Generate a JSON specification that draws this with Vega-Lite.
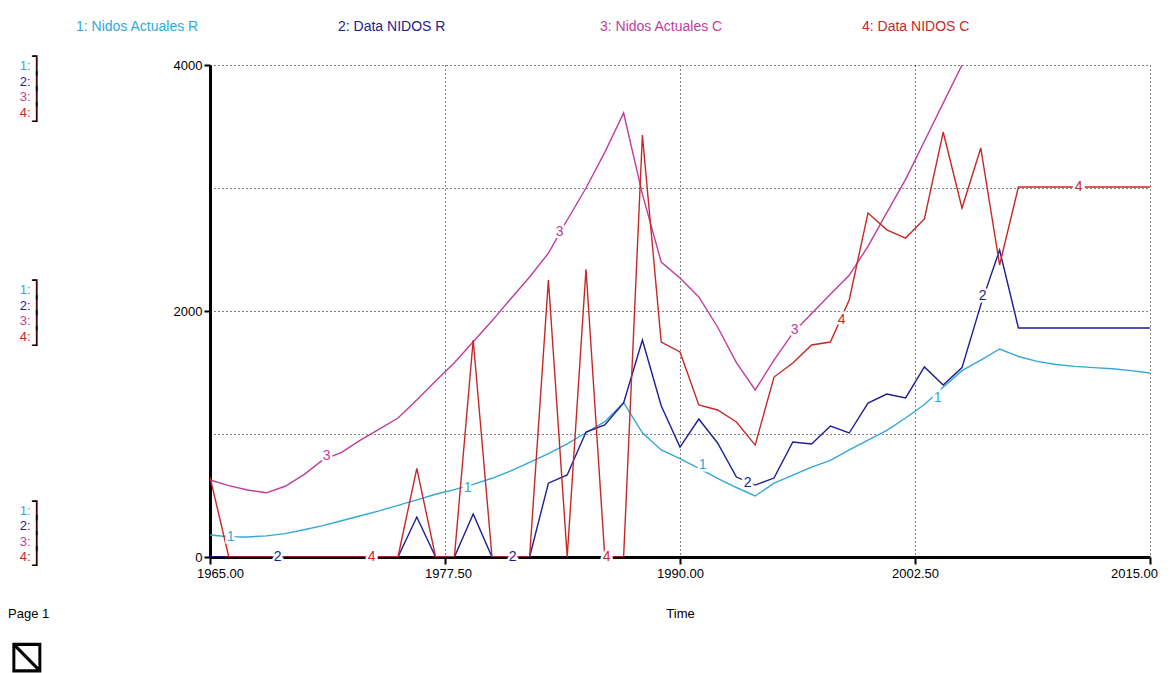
{
  "$schema": "https://vega.github.io/schema/vega-lite/v6.json",
  "width": 940,
  "height": 492,
  "autosize": {"type": "none"},
  "padding": {"left": 210, "top": 65, "right": 22, "bottom": 116},
  "background": "white",
  "config": {"view": {"stroke": null}, "font": "Liberation Sans"},
  "title": {"text": "Page 1", "subtitle": "⧅", "orient": "bottom", "anchor": "start", "frame": "group", "dx": -202, "offset": -12, "fontSize": 13, "fontWeight": "normal", "color": "#000", "font": "Liberation Sans", "subtitleFont": "DejaVu Sans", "subtitleFontSize": 58, "subtitleColor": "#000", "subtitlePadding": 5},
  "datasets": {
    "series": [
      {"t":1965,"s":"1: Nidos Actuales R","v":179},{"t":1966,"s":"1: Nidos Actuales R","v":165},{"t":1967,"s":"1: Nidos Actuales R","v":163},{"t":1968,"s":"1: Nidos Actuales R","v":172},{"t":1969,"s":"1: Nidos Actuales R","v":190},{"t":1970,"s":"1: Nidos Actuales R","v":222},{"t":1971,"s":"1: Nidos Actuales R","v":255},{"t":1972,"s":"1: Nidos Actuales R","v":295},{"t":1973,"s":"1: Nidos Actuales R","v":335},{"t":1974,"s":"1: Nidos Actuales R","v":375},{"t":1975,"s":"1: Nidos Actuales R","v":420},{"t":1976,"s":"1: Nidos Actuales R","v":465},{"t":1977,"s":"1: Nidos Actuales R","v":510},{"t":1978,"s":"1: Nidos Actuales R","v":548},{"t":1979,"s":"1: Nidos Actuales R","v":590},{"t":1980,"s":"1: Nidos Actuales R","v":640},{"t":1981,"s":"1: Nidos Actuales R","v":700},{"t":1982,"s":"1: Nidos Actuales R","v":770},{"t":1983,"s":"1: Nidos Actuales R","v":840},{"t":1984,"s":"1: Nidos Actuales R","v":920},{"t":1985,"s":"1: Nidos Actuales R","v":1010},{"t":1986,"s":"1: Nidos Actuales R","v":1100},{"t":1987,"s":"1: Nidos Actuales R","v":1255},{"t":1988,"s":"1: Nidos Actuales R","v":1010},{"t":1989,"s":"1: Nidos Actuales R","v":870},{"t":1990,"s":"1: Nidos Actuales R","v":800},{"t":1991,"s":"1: Nidos Actuales R","v":720},{"t":1992,"s":"1: Nidos Actuales R","v":640},{"t":1993,"s":"1: Nidos Actuales R","v":565},{"t":1994,"s":"1: Nidos Actuales R","v":496},{"t":1995,"s":"1: Nidos Actuales R","v":600},{"t":1996,"s":"1: Nidos Actuales R","v":665},{"t":1997,"s":"1: Nidos Actuales R","v":730},{"t":1998,"s":"1: Nidos Actuales R","v":785},{"t":1999,"s":"1: Nidos Actuales R","v":870},{"t":2000,"s":"1: Nidos Actuales R","v":950},{"t":2001,"s":"1: Nidos Actuales R","v":1030},{"t":2002,"s":"1: Nidos Actuales R","v":1130},{"t":2003,"s":"1: Nidos Actuales R","v":1240},{"t":2004,"s":"1: Nidos Actuales R","v":1380},{"t":2005,"s":"1: Nidos Actuales R","v":1515},{"t":2006,"s":"1: Nidos Actuales R","v":1600},{"t":2007,"s":"1: Nidos Actuales R","v":1691},{"t":2008,"s":"1: Nidos Actuales R","v":1630},{"t":2009,"s":"1: Nidos Actuales R","v":1590},{"t":2010,"s":"1: Nidos Actuales R","v":1565},{"t":2011,"s":"1: Nidos Actuales R","v":1550},{"t":2012,"s":"1: Nidos Actuales R","v":1540},{"t":2013,"s":"1: Nidos Actuales R","v":1530},{"t":2014,"s":"1: Nidos Actuales R","v":1515},{"t":2015,"s":"1: Nidos Actuales R","v":1496},
      {"t":1965,"s":"2: Data NIDOS R","v":0},{"t":1966,"s":"2: Data NIDOS R","v":0},{"t":1967,"s":"2: Data NIDOS R","v":0},{"t":1968,"s":"2: Data NIDOS R","v":0},{"t":1969,"s":"2: Data NIDOS R","v":0},{"t":1970,"s":"2: Data NIDOS R","v":0},{"t":1971,"s":"2: Data NIDOS R","v":0},{"t":1972,"s":"2: Data NIDOS R","v":0},{"t":1973,"s":"2: Data NIDOS R","v":0},{"t":1974,"s":"2: Data NIDOS R","v":0},{"t":1975,"s":"2: Data NIDOS R","v":0},{"t":1976,"s":"2: Data NIDOS R","v":325},{"t":1977,"s":"2: Data NIDOS R","v":0},{"t":1978,"s":"2: Data NIDOS R","v":0},{"t":1979,"s":"2: Data NIDOS R","v":350},{"t":1980,"s":"2: Data NIDOS R","v":0},{"t":1981,"s":"2: Data NIDOS R","v":0},{"t":1982,"s":"2: Data NIDOS R","v":0},{"t":1983,"s":"2: Data NIDOS R","v":600},{"t":1984,"s":"2: Data NIDOS R","v":667},{"t":1985,"s":"2: Data NIDOS R","v":1016},{"t":1986,"s":"2: Data NIDOS R","v":1073},{"t":1987,"s":"2: Data NIDOS R","v":1252},{"t":1988,"s":"2: Data NIDOS R","v":1764},{"t":1989,"s":"2: Data NIDOS R","v":1230},{"t":1990,"s":"2: Data NIDOS R","v":894},{"t":1991,"s":"2: Data NIDOS R","v":1122},{"t":1992,"s":"2: Data NIDOS R","v":927},{"t":1993,"s":"2: Data NIDOS R","v":650},{"t":1994,"s":"2: Data NIDOS R","v":585},{"t":1995,"s":"2: Data NIDOS R","v":642},{"t":1996,"s":"2: Data NIDOS R","v":935},{"t":1997,"s":"2: Data NIDOS R","v":919},{"t":1998,"s":"2: Data NIDOS R","v":1065},{"t":1999,"s":"2: Data NIDOS R","v":1008},{"t":2000,"s":"2: Data NIDOS R","v":1252},{"t":2001,"s":"2: Data NIDOS R","v":1325},{"t":2002,"s":"2: Data NIDOS R","v":1293},{"t":2003,"s":"2: Data NIDOS R","v":1545},{"t":2004,"s":"2: Data NIDOS R","v":1398},{"t":2005,"s":"2: Data NIDOS R","v":1540},{"t":2006,"s":"2: Data NIDOS R","v":2050},{"t":2007,"s":"2: Data NIDOS R","v":2496},{"t":2008,"s":"2: Data NIDOS R","v":1862},{"t":2009,"s":"2: Data NIDOS R","v":1862},{"t":2010,"s":"2: Data NIDOS R","v":1862},{"t":2011,"s":"2: Data NIDOS R","v":1862},{"t":2012,"s":"2: Data NIDOS R","v":1862},{"t":2013,"s":"2: Data NIDOS R","v":1862},{"t":2014,"s":"2: Data NIDOS R","v":1862},{"t":2015,"s":"2: Data NIDOS R","v":1862},
      {"t":1965,"s":"3: Nidos Actuales C","v":626},{"t":1966,"s":"3: Nidos Actuales C","v":580},{"t":1967,"s":"3: Nidos Actuales C","v":545},{"t":1968,"s":"3: Nidos Actuales C","v":522},{"t":1969,"s":"3: Nidos Actuales C","v":575},{"t":1970,"s":"3: Nidos Actuales C","v":670},{"t":1971,"s":"3: Nidos Actuales C","v":790},{"t":1972,"s":"3: Nidos Actuales C","v":850},{"t":1973,"s":"3: Nidos Actuales C","v":950},{"t":1974,"s":"3: Nidos Actuales C","v":1040},{"t":1975,"s":"3: Nidos Actuales C","v":1130},{"t":1976,"s":"3: Nidos Actuales C","v":1276},{"t":1977,"s":"3: Nidos Actuales C","v":1430},{"t":1978,"s":"3: Nidos Actuales C","v":1580},{"t":1979,"s":"3: Nidos Actuales C","v":1750},{"t":1980,"s":"3: Nidos Actuales C","v":1920},{"t":1981,"s":"3: Nidos Actuales C","v":2100},{"t":1982,"s":"3: Nidos Actuales C","v":2276},{"t":1983,"s":"3: Nidos Actuales C","v":2470},{"t":1984,"s":"3: Nidos Actuales C","v":2740},{"t":1985,"s":"3: Nidos Actuales C","v":3000},{"t":1986,"s":"3: Nidos Actuales C","v":3290},{"t":1987,"s":"3: Nidos Actuales C","v":3610},{"t":1988,"s":"3: Nidos Actuales C","v":2950},{"t":1989,"s":"3: Nidos Actuales C","v":2398},{"t":1990,"s":"3: Nidos Actuales C","v":2268},{"t":1991,"s":"3: Nidos Actuales C","v":2114},{"t":1992,"s":"3: Nidos Actuales C","v":1870},{"t":1993,"s":"3: Nidos Actuales C","v":1580},{"t":1994,"s":"3: Nidos Actuales C","v":1358},{"t":1995,"s":"3: Nidos Actuales C","v":1600},{"t":1996,"s":"3: Nidos Actuales C","v":1820},{"t":1997,"s":"3: Nidos Actuales C","v":1980},{"t":1998,"s":"3: Nidos Actuales C","v":2136},{"t":1999,"s":"3: Nidos Actuales C","v":2290},{"t":2000,"s":"3: Nidos Actuales C","v":2525},{"t":2001,"s":"3: Nidos Actuales C","v":2800},{"t":2002,"s":"3: Nidos Actuales C","v":3070},{"t":2003,"s":"3: Nidos Actuales C","v":3380},{"t":2004,"s":"3: Nidos Actuales C","v":3690},{"t":2005,"s":"3: Nidos Actuales C","v":4000},{"t":2006,"s":"3: Nidos Actuales C","v":4330},
      {"t":1965,"s":"4: Data NIDOS C","v":650},{"t":1966,"s":"4: Data NIDOS C","v":0},{"t":1967,"s":"4: Data NIDOS C","v":0},{"t":1968,"s":"4: Data NIDOS C","v":0},{"t":1969,"s":"4: Data NIDOS C","v":0},{"t":1970,"s":"4: Data NIDOS C","v":0},{"t":1971,"s":"4: Data NIDOS C","v":0},{"t":1972,"s":"4: Data NIDOS C","v":0},{"t":1973,"s":"4: Data NIDOS C","v":0},{"t":1974,"s":"4: Data NIDOS C","v":0},{"t":1975,"s":"4: Data NIDOS C","v":0},{"t":1976,"s":"4: Data NIDOS C","v":720},{"t":1977,"s":"4: Data NIDOS C","v":0},{"t":1978,"s":"4: Data NIDOS C","v":0},{"t":1979,"s":"4: Data NIDOS C","v":1764},{"t":1980,"s":"4: Data NIDOS C","v":0},{"t":1981,"s":"4: Data NIDOS C","v":0},{"t":1982,"s":"4: Data NIDOS C","v":0},{"t":1983,"s":"4: Data NIDOS C","v":2252},{"t":1984,"s":"4: Data NIDOS C","v":0},{"t":1985,"s":"4: Data NIDOS C","v":2340},{"t":1986,"s":"4: Data NIDOS C","v":0},{"t":1987,"s":"4: Data NIDOS C","v":0},{"t":1988,"s":"4: Data NIDOS C","v":3430},{"t":1989,"s":"4: Data NIDOS C","v":1748},{"t":1990,"s":"4: Data NIDOS C","v":1667},{"t":1991,"s":"4: Data NIDOS C","v":1236},{"t":1992,"s":"4: Data NIDOS C","v":1195},{"t":1993,"s":"4: Data NIDOS C","v":1098},{"t":1994,"s":"4: Data NIDOS C","v":910},{"t":1995,"s":"4: Data NIDOS C","v":1463},{"t":1996,"s":"4: Data NIDOS C","v":1577},{"t":1997,"s":"4: Data NIDOS C","v":1724},{"t":1998,"s":"4: Data NIDOS C","v":1748},{"t":1999,"s":"4: Data NIDOS C","v":2090},{"t":2000,"s":"4: Data NIDOS C","v":2797},{"t":2001,"s":"4: Data NIDOS C","v":2660},{"t":2002,"s":"4: Data NIDOS C","v":2593},{"t":2003,"s":"4: Data NIDOS C","v":2748},{"t":2004,"s":"4: Data NIDOS C","v":3455},{"t":2005,"s":"4: Data NIDOS C","v":2837},{"t":2006,"s":"4: Data NIDOS C","v":3325},{"t":2007,"s":"4: Data NIDOS C","v":2374},{"t":2008,"s":"4: Data NIDOS C","v":3008},{"t":2009,"s":"4: Data NIDOS C","v":3008},{"t":2010,"s":"4: Data NIDOS C","v":3008},{"t":2011,"s":"4: Data NIDOS C","v":3008},{"t":2012,"s":"4: Data NIDOS C","v":3008},{"t":2013,"s":"4: Data NIDOS C","v":3008},{"t":2014,"s":"4: Data NIDOS C","v":3008},{"t":2015,"s":"4: Data NIDOS C","v":3008}
    ],
    "labels": [
      {"t":1966.1,"v":163,"n":"1","s":"1: Nidos Actuales R"},{"t":1978.7,"v":560,"n":"1","s":"1: Nidos Actuales R"},{"t":1991.2,"v":748,"n":"1","s":"1: Nidos Actuales R"},{"t":2003.7,"v":1293,"n":"1","s":"1: Nidos Actuales R"},
      {"t":1968.6,"v":0,"n":"2","s":"2: Data NIDOS R"},{"t":1981.1,"v":0,"n":"2","s":"2: Data NIDOS R"},{"t":1993.6,"v":600,"n":"2","s":"2: Data NIDOS R"},{"t":2006.1,"v":2120,"n":"2","s":"2: Data NIDOS R"},
      {"t":1971.2,"v":820,"n":"3","s":"3: Nidos Actuales C"},{"t":1983.6,"v":2640,"n":"3","s":"3: Nidos Actuales C"},{"t":1996.1,"v":1846,"n":"3","s":"3: Nidos Actuales C"},
      {"t":1973.6,"v":0,"n":"4","s":"4: Data NIDOS C"},{"t":1986.1,"v":0,"n":"4","s":"4: Data NIDOS C"},{"t":1998.6,"v":1927,"n":"4","s":"4: Data NIDOS C"},{"t":2011.2,"v":3008,"n":"4","s":"4: Data NIDOS C"}
    ]
  },
  "resolve": {"axis": {"y": "independent"}},
  "layer": [
    {
      "data": {"name": "series"},
      "transform": [{"filter": "datum.s == '1: Nidos Actuales R'"}],
      "mark": {"type": "line", "strokeWidth": 1.4, "clip": true},
      "encoding": {
        "x": {"field": "t", "type": "quantitative", "scale": {"domain": [1965, 2015], "nice": false, "zero": false},
          "axis": {"values": [1965, 1977.5, 1990, 2002.5, 2015], "format": ".2f", "title": "Time", "titleFontSize": 13, "titleFontWeight": "normal", "titleColor": "#000", "titlePadding": 27, "grid": true, "gridColor": "#000", "gridDash": [1, 3], "gridWidth": 1, "gridOpacity": 1, "domainColor": "#000", "domainWidth": 3, "tickColor": "#000", "tickSize": 7, "tickWidth": 2, "labelFontSize": 13, "labelColor": "#000", "labelPadding": 3, "labelFlush": false, "labelOverlap": false,
            "labelOffset": {"condition": [{"test": "datum.value == 1965", "value": 10}, {"test": "datum.value == 2015", "value": -16}, {"test": "datum.value == 1977.5", "value": 3}], "value": 0}}},
        "y": {"field": "v", "type": "quantitative", "scale": {"domain": [0, 4000], "nice": false, "zero": false},
          "axis": {"orient": "left", "offset": 180, "values": [3992, 2171, 382], "labelExpr": "'1:'", "labelColor": "#33A8D8", "domain": false, "ticks": false, "tickSize": 0, "grid": false, "labelPadding": 0, "labelFontSize": 13, "labelOverlap": false, "labelBound": false, "labelFlush": false, "labelAlign": "right", "labelBaseline": "middle", "title": null}},
        "color": {"field": "s", "type": "nominal",
          "scale": {"domain": ["1: Nidos Actuales R", "2: Data NIDOS R", "3: Nidos Actuales C", "4: Data NIDOS C"], "range": ["#33A8D8", "#1C1C96", "#C23C9E", "#C62828"]},
          "legend": {"orient": "none", "legendX": -148, "legendY": -45, "direction": "horizontal", "title": null, "symbolSize": 0, "symbolOpacity": 0, "symbolStrokeWidth": 0, "labelFontSize": 14, "labelOffset": 0, "columnPadding": 125, "gridAlign": "all", "padding": 0, "labelFont": "Liberation Sans", "labelLimit": 300,
            "encode": {"labels": {"update": {"fill": {"scale": "color", "field": "value"}}}}}}
      }
    },
    {
      "data": {"name": "series"},
      "transform": [{"filter": "datum.s == '2: Data NIDOS R'"}],
      "mark": {"type": "line", "strokeWidth": 1.4, "clip": true},
      "encoding": {
        "x": {"field": "t", "type": "quantitative"},
        "y": {"field": "v", "type": "quantitative",
          "axis": {"orient": "left", "offset": 180, "values": [3866, 2045, 256], "labelExpr": "'2:'", "labelColor": "#1C1C96", "domain": false, "ticks": false, "tickSize": 0, "grid": false, "labelPadding": 0, "labelFontSize": 13, "labelOverlap": false, "labelBound": false, "labelFlush": false, "labelAlign": "right", "labelBaseline": "middle", "title": null}},
        "color": {"field": "s", "type": "nominal"}
      }
    },
    {
      "data": {"name": "series"},
      "transform": [{"filter": "datum.s == '3: Nidos Actuales C'"}],
      "mark": {"type": "line", "strokeWidth": 1.4, "clip": true},
      "encoding": {
        "x": {"field": "t", "type": "quantitative"},
        "y": {"field": "v", "type": "quantitative",
          "axis": {"orient": "left", "offset": 180, "values": [3740, 1919, 130], "labelExpr": "'3:'", "labelColor": "#C23C9E", "domain": false, "ticks": false, "tickSize": 0, "grid": false, "labelPadding": 0, "labelFontSize": 13, "labelOverlap": false, "labelBound": false, "labelFlush": false, "labelAlign": "right", "labelBaseline": "middle", "title": null}},
        "color": {"field": "s", "type": "nominal"}
      }
    },
    {
      "data": {"name": "series"},
      "transform": [{"filter": "datum.s == '4: Data NIDOS C'"}],
      "mark": {"type": "line", "strokeWidth": 1.4, "clip": true},
      "encoding": {
        "x": {"field": "t", "type": "quantitative"},
        "y": {"field": "v", "type": "quantitative",
          "axis": {"orient": "left", "offset": 180, "values": [3614, 1793, 4], "labelExpr": "'4:'", "labelColor": "#C62828", "domain": false, "ticks": false, "tickSize": 0, "grid": false, "labelPadding": 0, "labelFontSize": 13, "labelOverlap": false, "labelBound": false, "labelFlush": false, "labelAlign": "right", "labelBaseline": "middle", "title": null}},
        "color": {"field": "s", "type": "nominal"}
      }
    },
    {
      "data": {"name": "labels"},
      "mark": {"type": "text", "fill": "white", "stroke": "white", "strokeWidth": 5, "fontSize": 14, "align": "center", "baseline": "middle"},
      "encoding": {
        "x": {"field": "t", "type": "quantitative"},
        "y": {"field": "v", "type": "quantitative",
          "axis": {"orient": "left", "offset": 180, "values": [3992, 3866, 3740, 3614, 2171, 2045, 1919, 1793, 382, 256, 130, 4], "labelExpr": "indexof([3992, 2171, 382], datum.value) >= 0 ? '⎤' : (indexof([3614, 1793, 4], datum.value) >= 0 ? '⎦' : '⎥')", "labelColor": "#000", "labelFont": "DejaVu Sans", "labelFontSize": 17, "domain": false, "ticks": false, "tickSize": 0, "grid": false, "labelPadding": 0, "labelOverlap": false, "labelBound": false, "labelFlush": false, "labelAlign": "left", "labelBaseline": "middle", "title": null}},
        "text": {"field": "n"}
      }
    },
    {
      "data": {"name": "labels"},
      "mark": {"type": "text", "fontSize": 14, "align": "center", "baseline": "middle"},
      "encoding": {
        "x": {"field": "t", "type": "quantitative"},
        "y": {"field": "v", "type": "quantitative",
          "axis": {"orient": "left", "values": [0, 1000, 2000, 3000, 4000], "labelExpr": "datum.value % 2000 == 0 ? datum.value : ''", "grid": true, "gridColor": "#000", "gridDash": [1, 3], "gridWidth": 1, "gridOpacity": 1, "domain": true, "domainColor": "#000", "domainWidth": 3, "ticks": true, "tickColor": "#000", "tickSize": 6, "tickWidth": 2, "tickOpacity": {"condition": {"test": "datum.value % 2000 != 0", "value": 0}, "value": 1}, "labelFontSize": 13, "labelColor": "#000", "labelPadding": 2, "labelOverlap": false, "labelFlush": false, "title": null}},
        "text": {"field": "n"},
        "color": {"field": "s", "type": "nominal"}
      }
    }
  ]
}
